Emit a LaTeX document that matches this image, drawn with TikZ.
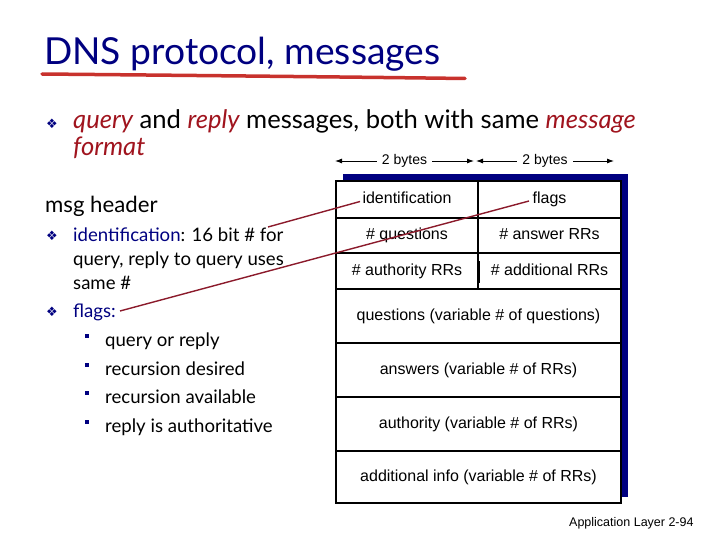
\documentclass[tikz,border=0pt]{standalone}
\usepackage{fontspec}
\setmainfont{Lato}
\newfontfamily\arialf{Liberation Sans}
\newfontfamily\symf{DejaVu Sans}
\usetikzlibrary{arrows.meta}
\definecolor{navy}{HTML}{000080}
\definecolor{dred}{HTML}{A0141E}
\definecolor{lred}{HTML}{8B1A2B}
\definecolor{ured}{HTML}{C8322D}
\newcommand{\hl}[1]{\textit{\color{dred}#1}}
\begin{document}
\begin{tikzpicture}[x=1pt,y=-1pt,
  txt/.style={anchor=base west, inner sep=0pt, font=\fontsize{18.6}{22}\selectfont},
  bigtxt/.style={anchor=base west, inner sep=0pt, font=\fontsize{25.6}{28}\selectfont},
  bul/.style={inner sep=0pt, text=navy, font=\symf\fontsize{13}{14}\selectfont},
  subbul/.style={fill=navy},
  cell/.style={draw=black, line width=1.8pt, fill=white, inner sep=0pt,
    text height=11.5pt, text depth=3.5pt,
    font=\arialf\fontsize{16}{18}\selectfont},
  bytes/.style={{Latex[length=7pt,width=5pt]}-{Latex[length=7pt,width=5pt]}, line width=0.9pt},
  bytelbl/.style={fill=white, inner sep=5pt, font=\arialf\fontsize{14}{16}\selectfont},
  pointer/.style={draw=lred, line width=1.4pt}]
\useasboundingbox (0,0) rectangle (720,540);
% title
\node[anchor=base west, inner sep=0pt, text=navy, font=\fontsize{37.2}{40}\selectfont] (title) at (44,65) {DNS protocol, messages};
\draw[ured, line width=3.5pt, line cap=round] (42,74) .. controls (200,75.5) and (350,77) .. (465,78.5);
% first bullet
\node[bul] (b0) at (52,124) {❖};
\node[bigtxt] (l1) at (73,129) {\hl{query} and \hl{reply} messages, both with same \hl{message}};
\node[bigtxt] (l2) at (73,156) {\hl{format}};
% left column
\node[txt, font=\fontsize{22.2}{24}\selectfont] (hdr) at (45,213) {msg header};
\node[bul] (b1) at (52,236) {❖};
\node[txt] (idt) at (73,241) {{\color{navy}identification}: 16 bit \# for};
\node[txt] (q2) at (73,265) {query, reply to query uses};
\node[txt] (q3) at (73,289) {same \#};
\node[bul] (b2) at (52,312) {❖};
\node[txt] (flg) at (73,317) {{\color{navy}flags:}};
\foreach \y/\t [count=\i] in {346/query or reply, 375/recursion desired, 403/recursion available, 432/reply is authoritative}{
  \fill[subbul] (84.5,\y-12) rectangle (88.5,\y-8);
  \node[txt] (s\i) at (105,\y) {\t};
}
% shadow
\fill[navy] (343,174) rectangle (628,497);
% cells
\node[cell, minimum width=142pt, minimum height=37pt] (cid) at (407,199.5) {identification};
\node[cell, minimum width=143pt, minimum height=37pt] (cfl) at (549.5,199.5) {flags};
\node[cell, minimum width=142pt, minimum height=35pt] (cq) at (407,235.5) {\# questions};
\node[cell, minimum width=143pt, minimum height=35pt] (can) at (549.5,235.5) {\# answer RRs};
\node[cell, minimum width=142pt, minimum height=36pt] (cau) at (407,271) {\# authority RRs};
\node[cell, minimum width=143pt, minimum height=36pt] (cad) at (549.5,271) {\# additional RRs};
\fill (478,261) rectangle (480.2,283);
\node[cell, minimum width=285pt, minimum height=54pt] (rq) at (478.5,316) {questions (variable \# of questions)};
\node[cell, minimum width=285pt, minimum height=54pt] (ran) at (478.5,370) {answers (variable \# of RRs)};
\node[cell, minimum width=285pt, minimum height=54pt] (rau) at (478.5,424) {authority (variable \# of RRs)};
\node[cell, minimum width=285pt, minimum height=52pt] (rad) at (478.5,477) {additional info (variable \# of RRs)};
% byte arrows
\coordinate (a1) at (335,161);
\coordinate (a2) at (474,161);
\coordinate (a3) at (476,161);
\coordinate (a4) at (614,161);
\draw[bytes] (a1) -- node[bytelbl] {2 bytes} (a2);
\draw[bytes] (a3) -- node[bytelbl] {2 bytes} (a4);
% pointers
\coordinate (p1s) at (268,227);
\coordinate (p1e) at (360,201.5);
\coordinate (p2s) at (120,311);
\coordinate (p2e) at (529,201);
\draw[pointer] (p1s) -- (p1e);
\draw[pointer] (p2s) -- (p2e);
% footer
\node[anchor=base west, inner sep=0pt, font=\arialf\fontsize{12.5}{14}\selectfont] (foot) at (569,526) {Application Layer 2-94};
\end{tikzpicture}
\end{document}
